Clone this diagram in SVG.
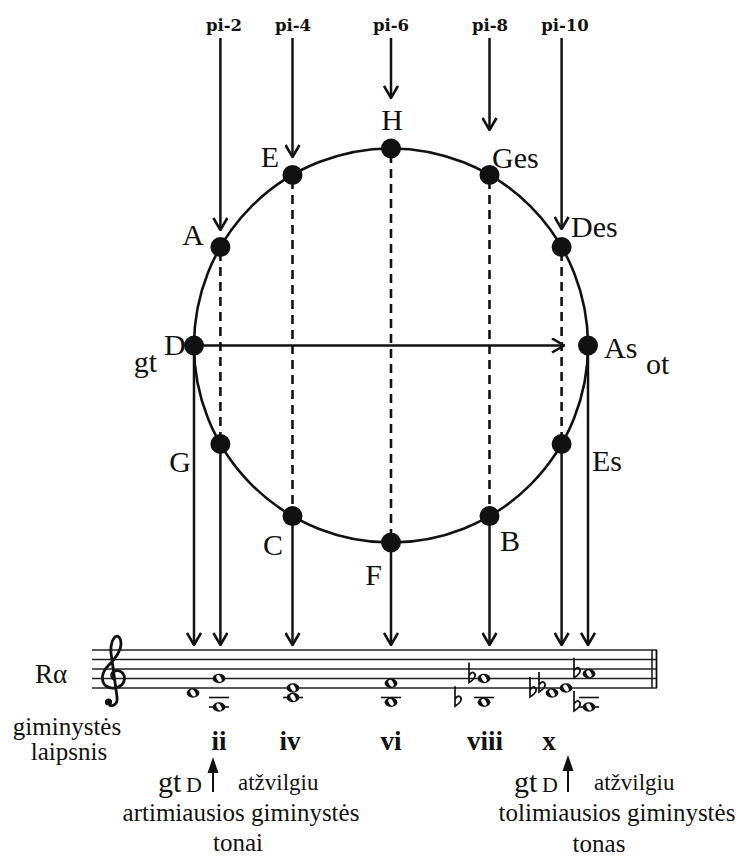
<svg xmlns="http://www.w3.org/2000/svg" width="745" height="861" viewBox="0 0 745 861">
<style>
.bg{fill:#fff}
.circ{fill:none;stroke:#111;stroke-width:2.6}
.dot{fill:#111}
.lab{font-family:"Liberation Serif","Times New Roman",serif;font-size:30px;fill:#111}
.pi{font-family:"DejaVu Serif","Liberation Serif",serif;font-weight:bold;font-size:16.5px;fill:#111;text-anchor:middle}
.arr{stroke:#111;stroke-width:2.5;fill:none;marker-end:url(#ah)}
.dash{stroke:#111;stroke-width:2.6;fill:none;stroke-dasharray:9 6}
.staff{stroke:#222;stroke-width:1.5}
.led{stroke:#111;stroke-width:1.6}
.txt{font-family:"Liberation Serif","Times New Roman",serif;fill:#111}
.rn{font-family:"Liberation Serif","Times New Roman",serif;font-weight:bold;font-size:27px;fill:#111;text-anchor:middle}
.flat{fill:none;stroke:#111;stroke-width:1.7}
</style>
<defs>
<marker id="ah" viewBox="0 0 14 16" refX="13" refY="8" markerWidth="14" markerHeight="16" markerUnits="userSpaceOnUse" orient="auto">
<path d="M1,1 L13,8 L1,15" fill="none" stroke="#111" stroke-width="2.6"/>
</marker>
<g id="wn"><ellipse rx="6.4" ry="4.7" fill="#111"/><ellipse rx="2.2" ry="3.7" transform="rotate(-30)" fill="#fff"/></g>
<path id="flat" d="M0,-16 L0,4 C5,1 8,-3 5,-5.5 C3,-7 1,-5 0,-3"/>
</defs>
<rect class="bg" x="0" y="0" width="745" height="861"/>

<g id="circle">
<circle class="circ" cx="391" cy="345.5" r="197"/>
</g>

<g id="connectors">
<line class="arr" x1="220.4" y1="38" x2="220.4" y2="230"/>
<line class="arr" x1="292.5" y1="38" x2="292.5" y2="157"/>
<line class="arr" x1="391" y1="38" x2="391" y2="98"/>
<line class="arr" x1="489.5" y1="38" x2="489.5" y2="130"/>
<line class="arr" x1="561.6" y1="38" x2="561.6" y2="229"/>
<line class="dash" x1="220.4" y1="252" x2="220.4" y2="440"/>
<line class="dash" x1="292.5" y1="180" x2="292.5" y2="512"/>
<line class="dash" x1="391" y1="154" x2="391" y2="538"/>
<line class="dash" x1="489.5" y1="180" x2="489.5" y2="512"/>
<line class="dash" x1="561.6" y1="252" x2="561.6" y2="440"/>
<line class="arr" x1="194" y1="345.5" x2="564" y2="345.5"/>
<line class="arr" x1="194" y1="345.5" x2="194" y2="645"/>
<line class="arr" x1="220.4" y1="444" x2="220.4" y2="645"/>
<line class="arr" x1="292.5" y1="516" x2="292.5" y2="645"/>
<line class="arr" x1="391" y1="542.5" x2="391" y2="645"/>
<line class="arr" x1="489.5" y1="516" x2="489.5" y2="645"/>
<line class="arr" x1="561.6" y1="444" x2="561.6" y2="645"/>
<line class="arr" x1="588" y1="345.5" x2="588" y2="645"/>
</g>

<g id="node-H"><circle class="dot" cx="391" cy="148.5" r="10"/><text class="lab" x="392" y="130" text-anchor="middle" font-size="32">H</text></g>
<g id="node-E"><circle class="dot" cx="292.5" cy="174.9" r="10"/><text class="lab" x="279" y="167" text-anchor="end">E</text></g>
<g id="node-Ges"><circle class="dot" cx="489.5" cy="174.9" r="10"/><text class="lab" x="492" y="168">Ges</text></g>
<g id="node-A"><circle class="dot" cx="220.4" cy="247" r="10"/><text class="lab" x="204" y="245" text-anchor="end">A</text></g>
<g id="node-Des"><circle class="dot" cx="561.6" cy="247" r="10"/><text class="lab" x="571" y="237">Des</text></g>
<g id="node-D"><circle class="dot" cx="194" cy="345.5" r="10"/><text class="lab" x="157" y="372" text-anchor="end">gt</text><text class="lab" x="164" y="355" font-size="25">D</text></g>
<g id="node-As"><circle class="dot" cx="588" cy="345.5" r="10"/><text class="lab" x="604" y="358">As</text><text class="lab" x="646" y="374">ot</text></g>
<g id="node-G"><circle class="dot" cx="220.4" cy="444" r="10"/><text class="lab" x="191" y="472" text-anchor="end">G</text></g>
<g id="node-Es"><circle class="dot" cx="561.6" cy="444" r="10"/><text class="lab" x="592" y="471">Es</text></g>
<g id="node-C"><circle class="dot" cx="292.5" cy="516.1" r="10"/><text class="lab" x="283" y="555" text-anchor="end">C</text></g>
<g id="node-B"><circle class="dot" cx="489.5" cy="516.1" r="10"/><text class="lab" x="500" y="551">B</text></g>
<g id="node-F"><circle class="dot" cx="391" cy="542.5" r="10"/><text class="lab" x="382" y="585" text-anchor="end">F</text></g>

<g id="top-labels">
<text class="pi" x="224" y="31">pi-2</text>
<text class="pi" x="293" y="31">pi-4</text>
<text class="pi" x="391" y="31">pi-6</text>
<text class="pi" x="490" y="31">pi-8</text>
<text class="pi" x="565" y="31">pi-10</text>
</g>

<g id="staff">
<line class="staff" x1="92" y1="650" x2="657" y2="650"/>
<line class="staff" x1="92" y1="659.5" x2="657" y2="659.5"/>
<line class="staff" x1="92" y1="669" x2="657" y2="669"/>
<line class="staff" x1="92" y1="678.5" x2="657" y2="678.5"/>
<line class="staff" x1="92" y1="688" x2="657" y2="688"/>
<line x1="652" y1="650" x2="652" y2="688" stroke="#111" stroke-width="1.5"/>
<line x1="656.5" y1="650" x2="656.5" y2="688" stroke="#111" stroke-width="1.8"/>
<path d="M116,680 C111,679 110,673 115,671 C121,669 126,675 124,681 C122,688 112,690 106,686 C100,681 102,672 108,666 C115,659 121,652 121,644 C121,637 117,634 114,638 C111,642 110,650 112,660 L117,697 C118,704 113,707 109,705" fill="none" stroke="#111" stroke-width="2.8"/>
<circle cx="108.5" cy="702" r="3.6" fill="#111"/>
<use href="#wn" x="193" y="693"/>
<use href="#wn" x="219" y="678.5"/>
<line class="led" x1="209" y1="697.5" x2="229" y2="697.5"/>
<line class="led" x1="209" y1="707" x2="229" y2="707"/>
<use href="#wn" x="219" y="707"/>
<use href="#wn" x="293" y="688"/>
<line class="led" x1="283" y1="697.5" x2="303" y2="697.5"/>
<use href="#wn" x="293" y="697.5"/>
<use href="#wn" x="391" y="683.25"/>
<line class="led" x1="381" y1="697.5" x2="401" y2="697.5"/>
<use href="#wn" x="391" y="702.25"/>
<use href="#flat" class="flat" x="469" y="678.5"/>
<use href="#wn" x="484" y="678.5"/>
<use href="#flat" class="flat" x="455" y="702.25"/>
<line class="led" x1="474" y1="697.5" x2="494" y2="697.5"/>
<use href="#wn" x="484" y="702.25"/>
<use href="#flat" class="flat" x="530" y="693"/>
<use href="#flat" class="flat" x="539" y="688"/>
<use href="#wn" x="552" y="693"/>
<use href="#wn" x="566" y="688"/>
<use href="#flat" class="flat" x="574" y="673.75"/>
<use href="#wn" x="589" y="673.75"/>
<use href="#flat" class="flat" x="574" y="707"/>
<line class="led" x1="579" y1="697.5" x2="599" y2="697.5"/>
<line class="led" x1="579" y1="707" x2="599" y2="707"/>
<use href="#wn" x="589" y="707"/>
</g>

<g id="labels-bottom">
<text class="txt" x="35" y="683" font-size="27">Rα</text>
<text class="txt" x="67" y="735" font-size="25" text-anchor="middle">giminystės</text>
<text class="txt" x="69" y="760" font-size="25" text-anchor="middle">laipsnis</text>
<text class="rn" x="219" y="750">ii</text>
<text class="rn" x="290" y="750">iv</text>
<text class="rn" x="391" y="750">vi</text>
<text class="rn" x="485" y="750">viii</text>
<text class="rn" x="549" y="750">x</text>
</g>

<g id="note-left">
<text class="txt" x="158" y="792" font-size="30">gt</text>
<text class="txt" x="186" y="792" font-size="22">D</text>
<line x1="213" y1="792" x2="213" y2="770" stroke="#111" stroke-width="2"/>
<path d="M213,757 L218.5,773 L207.5,773 Z" fill="#111"/>
<text class="txt" x="238" y="790" font-size="23">atžvilgiu</text>
<text class="txt" x="241" y="821" font-size="25" text-anchor="middle">artimiausios giminystės</text>
<text class="txt" x="238" y="851" font-size="25" text-anchor="middle">tonai</text>
</g>

<g id="note-right">
<text class="txt" x="514" y="792" font-size="30">gt</text>
<text class="txt" x="542" y="792" font-size="22">D</text>
<line x1="568" y1="792" x2="568" y2="768" stroke="#111" stroke-width="2"/>
<path d="M568,755 L573.5,771 L562.5,771 Z" fill="#111"/>
<text class="txt" x="594" y="790" font-size="23">atžvilgiu</text>
<text class="txt" x="617" y="821" font-size="25" text-anchor="middle">tolimiausios giminystės</text>
<text class="txt" x="599" y="852" font-size="25" text-anchor="middle">tonas</text>
</g>
</svg>
